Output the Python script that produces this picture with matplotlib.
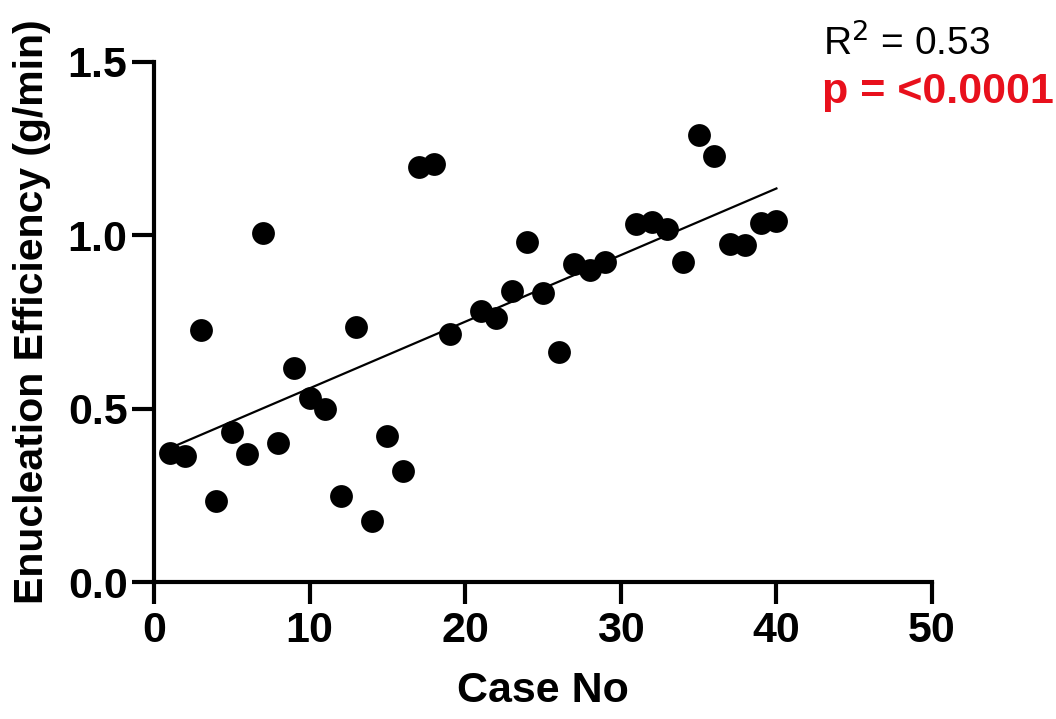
import numpy as np
import matplotlib.pyplot as plt

plt.rcParams['font.family'] = ['Liberation Sans', 'DejaVu Sans']

# case number and enucleation efficiency (g/min)
case_no = [1, 2, 3, 4, 5, 6, 7, 8, 9, 10, 11, 12, 13, 14, 15, 16, 17, 18, 19,
           21, 22, 23, 24, 25, 26, 27, 28, 29, 31, 32, 33, 34, 35, 36, 37, 38, 39, 40]
efficiency = [0.372, 0.363, 0.727, 0.234, 0.433, 0.369, 1.007, 0.401, 0.617, 0.531,
              0.499, 0.248, 0.736, 0.176, 0.421, 0.320, 1.197, 1.206, 0.715,
              0.782, 0.761, 0.839, 0.981, 0.834, 0.663, 0.917, 0.900, 0.923,
              1.033, 1.038, 1.018, 0.923, 1.289, 1.229, 0.975, 0.972, 1.035, 1.041]

r2_text = 'R$^2$ = 0.53'
p_text = 'p = <0.0001'

x = np.array(case_no)
y = np.array(efficiency)
slope, intercept = np.polyfit(x, y, 1)
xf = np.array([x.min(), x.max()])

fig = plt.figure(figsize=(10.56, 7.19), dpi=100)
ax = fig.add_axes([0.1458, 0.1905, 0.7368, 0.7233])

ax.scatter(x, y, s=270, color='black', zorder=3, linewidths=0)
ax.plot(xf, slope * xf + intercept, color='black', lw=1.6)

ax.set_xlim(0, 50)
ax.set_ylim(0, 1.5)
ax.set_xticks([0, 10, 20, 30, 40, 50])
ax.set_yticks([0.0, 0.5, 1.0, 1.5])
ax.set_yticklabels(['0.0', '0.5', '1.0', '1.5'])

for s in ['top', 'right']:
    ax.spines[s].set_visible(False)
for s in ['left', 'bottom']:
    ax.spines[s].set_linewidth(3)
ax.tick_params(width=3, length=16, labelsize=31)
ax.tick_params(axis='y', pad=3)
ax.tick_params(axis='x', pad=5)
for lab in ax.get_xticklabels() + ax.get_yticklabels():
    lab.set_fontweight('bold')

ax.set_xlabel('Case No', fontsize=31, fontweight='bold', labelpad=14)
ax.set_ylabel('Enucleation Efficiency (g/min)', fontsize=29.5, fontweight='bold')
ax.yaxis.set_label_coords(-0.132, 0.52)

fig.text(0.779, 0.923, r2_text, fontsize=28, color='black', va='baseline')
fig.text(0.778, 0.857, p_text, fontsize=31, color='#e8101c', fontweight='bold', va='baseline')

fig.savefig('out.png', dpi=100)
